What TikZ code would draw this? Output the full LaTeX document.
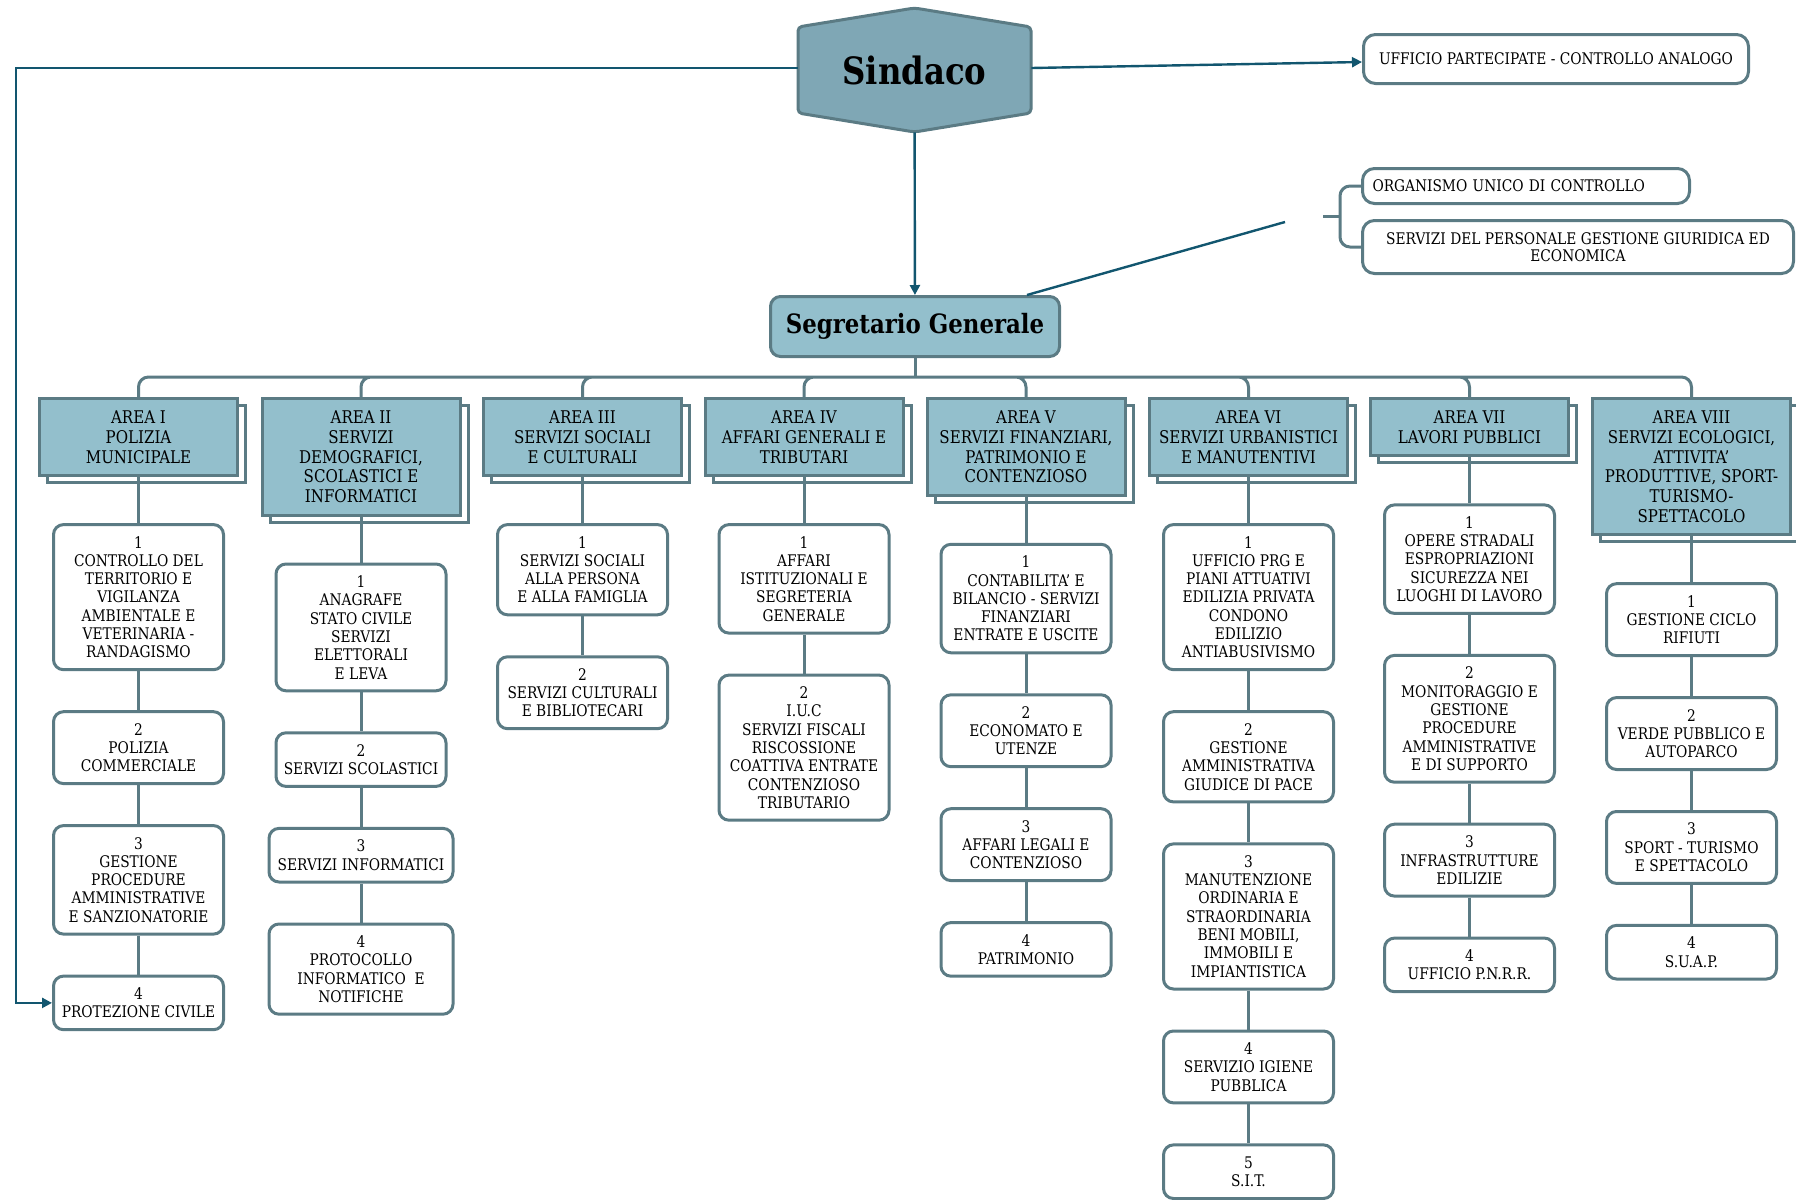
\documentclass[tikz,border=0pt]{standalone}
\usepackage{fontspec}
\setmainfont{DejaVu Serif}[FakeStretch=0.86]
\usetikzlibrary{positioning,shadows,arrows.meta}

\definecolor{boxline}{HTML}{5B7B84}
\definecolor{areafill}{HTML}{93BFCC}
\definecolor{hexfill}{HTML}{7FA7B5}
\definecolor{arrline}{HTML}{12566F}

\tikzset{
  unit/.style={draw=boxline, line width=1.5pt, rounded corners=5pt, fill=white, align=center,
    minimum width=85pt, inner sep=2pt, font=\fontsize{8}{9.15}\selectfont},
  nrows/.style={minimum height={#1*9.15pt+8.5pt}},
  area/.style={draw=boxline, line width=1.5pt, fill=areafill, align=center, minimum width=99pt,
    inner sep=2pt, font=\fontsize{8.75}{9.85}\selectfont,
    general shadow={shadow xshift=4pt, shadow yshift=-3.5pt, fill=white, draw=boxline, line width=1.5pt}},
  arows/.style={minimum height={#1*9.85pt+9pt}},
  note/.style={draw=boxline, line width=1.5pt, rounded corners=6pt, fill=white, align=center,
    font=\fontsize{8}{8.5}\selectfont},
  link/.style={draw=boxline, line width=1.5pt},
  arr/.style={draw=arrline, line width=1.2pt, -{Triangle[length=5pt,width=5pt]}}
}

\begin{document}
\begin{tikzpicture}[x=0.5pt, y=-0.5pt]
	\useasboundingbox (0,0) rectangle (1796,1200);
	% vertice
	\coordinate (hc) at (914.5,70);
	\draw[draw=boxline, line width=1.5pt, fill=hexfill, rounded corners=2pt] ([shift={(0,-62)}]hc) -- ++(116.5,19) -- ++(0,86) -- ++(-116.5,19) -- ++(-116.5,-19) -- ++(0,-86) -- cycle;
	\node[minimum width=116.5pt, minimum height=62pt, inner sep=0pt, font=\fontsize{18.8}{20}\bfseries\selectfont] (sindaco) at (hc) {Sindaco};
	\node[draw=boxline, line width=1.5pt, fill=areafill, rounded corners=5pt, minimum width=144.5pt, minimum height=30pt, font=\fontsize{13.3}{15}\bfseries\selectfont] (seg) at (915,326.5) {Segretario Generale};
	\node[note, minimum width=192.5pt, minimum height=24.5pt, anchor=west] (uff) at (1362,59) {UFFICIO PARTECIPATE - CONTROLLO ANALOGO};
	\node[note, minimum height=17.5pt, text width=153.5pt, inner xsep=5pt, align=left, anchor=west] (org) at (1361,186) {ORGANISMO UNICO DI CONTROLLO};
	\node[note, minimum width=215.5pt, minimum height=26.5pt, anchor=west] (pers) at (1361,247) {SERVIZI DEL PERSONALE GESTIONE GIURIDICA ED\\ECONOMICA};

	% aree
	\node[area, arows=3, anchor=north] (a1) at (138.5,397) {AREA I\\POLIZIA\\MUNICIPALE};
	\node[area, arows=5, anchor=north] (a2) at (361,397) {AREA II\\SERVIZI\\DEMOGRAFICI,\\SCOLASTICI E\\INFORMATICI};
	\node[area, arows=3, anchor=north] (a3) at (582.5,397) {AREA III\\SERVIZI SOCIALI\\E CULTURALI};
	\node[area, arows=3, anchor=north] (a4) at (804,397) {AREA IV\\AFFARI GENERALI E\\TRIBUTARI};
	\node[area, arows=4, anchor=north] (a5) at (1026,397) {AREA V\\SERVIZI FINANZIARI,\\PATRIMONIO E\\CONTENZIOSO};
	\node[area, arows=3, anchor=north] (a6) at (1248.5,397) {AREA VI\\SERVIZI URBANISTICI\\E MANUTENTIVI};
	\node[area, arows=2, anchor=north] (a7) at (1469.5,397) {AREA VII\\LAVORI PUBBLICI};
	\node[area, arows=6, anchor=north] (a8) at (1691.5,397) {AREA VIII\\SERVIZI ECOLOGICI,\\ATTIVITA'\\PRODUTTIVE, SPORT-\\TURISMO-\\SPETTACOLO};

	% area I
	\node[unit, nrows=7, below=23pt of a1] (c11) {1\\CONTROLLO DEL\\TERRITORIO E\\VIGILANZA\\AMBIENTALE E\\VETERINARIA -\\RANDAGISMO};
	\node[unit, nrows=3, below=19.5pt of c11] (c12) {2\\POLIZIA\\COMMERCIALE};
	\node[unit, nrows=5, below=19.5pt of c12] (c13) {3\\GESTIONE\\PROCEDURE\\AMMINISTRATIVE\\E SANZIONATORIE};
	\node[unit, nrows=2, below=19.5pt of c13] (c14) {4\\PROTEZIONE CIVILE};
	% area II
	\node[unit, nrows=6, below=23pt of a2] (c21) {1\\ANAGRAFE\\STATO CIVILE\\SERVIZI\\ELETTORALI\\E LEVA};
	\node[unit, nrows=2, below=19.5pt of c21] (c22) {2\\SERVIZI SCOLASTICI};
	\node[unit, nrows=2, minimum width=92pt, below=19.5pt of c22] (c23) {3\\SERVIZI INFORMATICI};
	\node[unit, nrows=4, minimum width=92pt, below=19.5pt of c23] (c24) {4\\PROTOCOLLO\\INFORMATICO~ E\\NOTIFICHE};
	% area III
	\node[unit, nrows=4, below=23pt of a3] (c31) {1\\SERVIZI SOCIALI\\ALLA PERSONA\\E ALLA FAMIGLIA};
	\node[unit, nrows=3, below=19.5pt of c31] (c32) {2\\SERVIZI CULTURALI\\E BIBLIOTECARI};
	% area IV
	\node[unit, nrows=5, below=23pt of a4] (c41) {1\\AFFARI\\ISTITUZIONALI E\\SEGRETERIA\\GENERALE};
	\node[unit, nrows=7, below=19.5pt of c41] (c42) {2\\I.U.C\\SERVIZI FISCALI\\RISCOSSIONE\\COATTIVA ENTRATE\\CONTENZIOSO\\TRIBUTARIO};
	% area V
	\node[unit, nrows=5, below=23pt of a5] (c51) {1\\CONTABILITA' E\\BILANCIO - SERVIZI\\FINANZIARI\\ENTRATE E USCITE};
	\node[unit, nrows=3, below=19.5pt of c51] (c52) {2\\ECONOMATO E\\UTENZE};
	\node[unit, nrows=3, below=19.5pt of c52] (c53) {3\\AFFARI LEGALI E\\CONTENZIOSO};
	\node[unit, nrows=2, below=19.5pt of c53] (c54) {4\\PATRIMONIO};
	% area VI
	\node[unit, nrows=7, below=23pt of a6] (c61) {1\\UFFICIO PRG E\\PIANI ATTUATIVI\\EDILIZIA PRIVATA\\CONDONO\\EDILIZIO\\ANTIABUSIVISMO};
	\node[unit, nrows=4, below=19.5pt of c61] (c62) {2\\GESTIONE\\AMMINISTRATIVA\\GIUDICE DI PACE};
	\node[unit, nrows=7, below=19.5pt of c62] (c63) {3\\MANUTENZIONE\\ORDINARIA E\\STRAORDINARIA\\BENI MOBILI,\\IMMOBILI E\\IMPIANTISTICA};
	\node[unit, nrows=3, below=19.5pt of c63] (c64) {4\\SERVIZIO IGIENE\\PUBBLICA};
	\node[unit, nrows=2, below=19.5pt of c64] (c65) {5\\S.I.T.};
	% area VII
	\node[unit, nrows=5, below=23pt of a7] (c71) {1\\OPERE STRADALI\\ESPROPRIAZIONI\\SICUREZZA NEI\\LUOGHI DI LAVORO};
	\node[unit, nrows=6, below=19.5pt of c71] (c72) {2\\MONITORAGGIO E\\GESTIONE\\PROCEDURE\\AMMINISTRATIVE\\E DI SUPPORTO};
	\node[unit, nrows=3, below=19.5pt of c72] (c73) {3\\INFRASTRUTTURE\\EDILIZIE};
	\node[unit, nrows=2, below=19.5pt of c73] (c74) {4\\UFFICIO P.N.R.R.};
	% area VIII
	\node[unit, nrows=3, below=23pt of a8] (c81) {1\\GESTIONE CICLO\\RIFIUTI};
	\node[unit, nrows=3, below=19.5pt of c81] (c82) {2\\VERDE PUBBLICO E\\AUTOPARCO};
	\node[unit, nrows=3, below=19.5pt of c82] (c83) {3\\SPORT - TURISMO\\E SPETTACOLO};
	\node[unit, nrows=2, below=19.5pt of c83] (c84) {4\\S.U.A.P.};

	% collegamenti
	\coordinate (bus) at (915,377);
	\coordinate (lft) at (16,68);
	\coordinate (dg) at (1285,222);
	\coordinate (brk) at (1323,216.5);
	\draw[arr] ([yshift=1pt]sindaco.east) -- ([yshift=-1.5pt]uff.west);
	\draw[arr] (sindaco) -- (seg);
	\draw[arr] ([yshift=1pt]sindaco.west) -- ([yshift=1pt]sindaco.west -| lft) |- (c14.west);
	\draw[draw=arrline, line width=1.2pt] ([xshift=-17pt]seg.north east) -- (dg);
	\draw[link, rounded corners=5pt] (org.west) -- ++(-10.5pt,0) |- (pers.west);
	\draw[link] (brk) -- ++(17,0);
	\draw[link] (seg) -- (bus);
	\draw[link, rounded corners=5pt] (bus) -| (a1.north) (bus) -| (a2.north) (bus) -| (a3.north) (bus) -| (a4.north)
		(bus) -| (a5.north) (bus) -| (a6.north) (bus) -| (a7.north) (bus) -| (a8.north);
	\draw[link] (a1) -- (c11) (c11) -- (c12) (c12) -- (c13) (c13) -- (c14);
	\draw[link] (a2) -- (c21) (c21) -- (c22) (c22) -- (c23) (c23) -- (c24);
	\draw[link] (a3) -- (c31) (c31) -- (c32);
	\draw[link] (a4) -- (c41) (c41) -- (c42);
	\draw[link] (a5) -- (c51) (c51) -- (c52) (c52) -- (c53) (c53) -- (c54);
	\draw[link] (a6) -- (c61) (c61) -- (c62) (c62) -- (c63) (c63) -- (c64) (c64) -- (c65);
	\draw[link] (a7) -- (c71) (c71) -- (c72) (c72) -- (c73) (c73) -- (c74);
	\draw[link] (a8) -- (c81) (c81) -- (c82) (c82) -- (c83) (c83) -- (c84);
\end{tikzpicture}
\end{document}
